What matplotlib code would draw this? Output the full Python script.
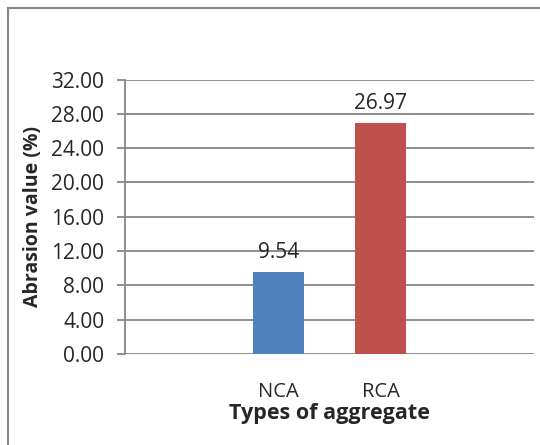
import matplotlib.pyplot as plt
from matplotlib.lines import Line2D

# Abrasion value of natural vs recycled coarse aggregate
categories = ["NCA", "RCA"]
abrasion = [9.54, 26.97]
bar_colors = ["#4F81BD", "#C0504D"]
yticks = [0, 4, 8, 12, 16, 20, 24, 28, 32]

plt.rcParams["font.family"] = ["Open Sans", "DejaVu Sans"]
text_color = "#262626"
grid_color = "#868686"

fig = plt.figure(figsize=(5.4, 4.45), dpi=100)
W, H = 540, 445
ax = fig.add_axes([125 / W, 1 - 354 / H, (534 - 125) / W, (354 - 79.5) / H])

# chart area sits in four category slots, the two bars in the middle ones
pos = [1, 2]
ax.bar(pos, abrasion, width=0.5, color=bar_colors, zorder=3)
for x, v in zip(pos, abrasion):
    ax.annotate(f"{v:.2f}", (x, v), xytext=(0, 10), textcoords="offset points",
                ha="center", va="baseline", fontsize=15, color=text_color)

ax.set_xlim(-0.5, 3.5)
ax.set_ylim(0, 32)
ax.set_yticks(yticks)
ax.set_yticklabels([f"{t:.2f}" for t in yticks])
ax.set_xticks(pos)
ax.set_xticklabels(categories)

ax.grid(axis="y", color=grid_color, linewidth=1.3, zorder=0)
for s in ["top", "right", "bottom"]:
    ax.spines[s].set_visible(False)
ax.spines["left"].set_color(grid_color)
ax.spines["left"].set_linewidth(1.3)
ax.tick_params(axis="y", length=6, width=1.3, color=grid_color,
               labelsize=15, labelcolor=text_color, pad=9)
ax.tick_params(axis="x", length=0, labelsize=14.5, labelcolor=text_color, pad=20)

ax.set_ylabel("Abrasion value (%)", fontsize=14, fontweight="bold",
              color=text_color, labelpad=6)
ax.set_xlabel("Types of aggregate", fontsize=15.5, fontweight="bold",
              color=text_color, labelpad=1)

# outer chart border (left and top edges)
fig.add_artist(Line2D([8 / W, 8 / W], [0, 1 - 8 / H], color=grid_color, lw=1.5))
fig.add_artist(Line2D([8 / W, 1], [1 - 8 / H, 1 - 8 / H], color=grid_color, lw=1.5))

fig.savefig("out.png", dpi=100)
